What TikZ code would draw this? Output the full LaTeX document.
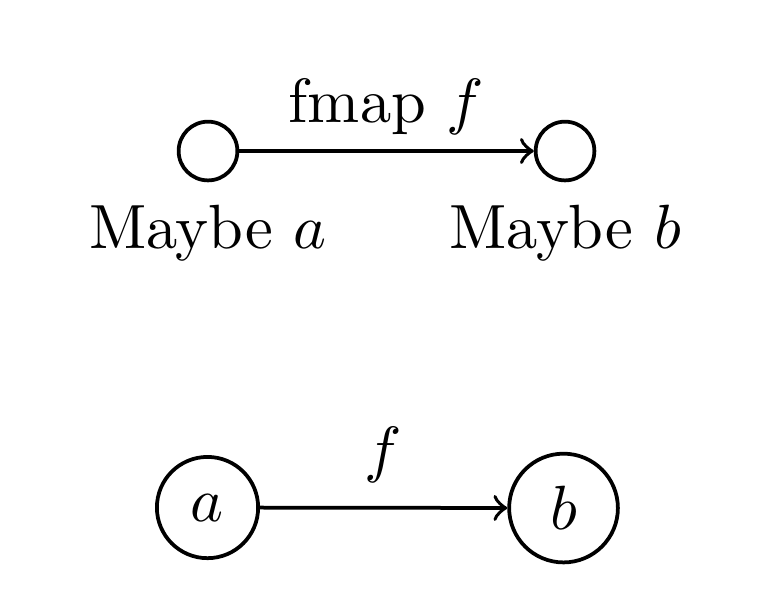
\documentclass[tikz,border=0pt]{standalone}
\begin{document}
\begin{tikzpicture}[x=0.16pt,y=-0.16pt,
  every path/.style={line width=0.6pt},
  dot/.style={circle,draw,inner sep=0pt,minimum size=9.4pt},
  obj/.style={circle,draw,inner sep=0pt},
  lbl/.style={anchor=base,inner sep=0pt}]
\useasboundingbox (0,0) rectangle (768,612);
\node[dot] (ma) at (208,151) {};
\node[dot] (mb) at (565,151) {};
\node[lbl] (tma) at (208,248) {Maybe $a$};
\node[lbl] (tmb) at (565,248) {Maybe $b$};
\draw[->] (ma) -- node[lbl,yshift=4.6pt] (fm) {fmap $f$} (mb);
\node[obj,minimum size=16.2pt] (a) at (207.5,507.5) {$a$};
\node[obj,minimum size=17.4pt] (b) at (563.5,508) {$b$};
\draw[->] (a) -- node[lbl,yshift=5.9pt] (fl) {$f$} (b);
\end{tikzpicture}
\end{document}
